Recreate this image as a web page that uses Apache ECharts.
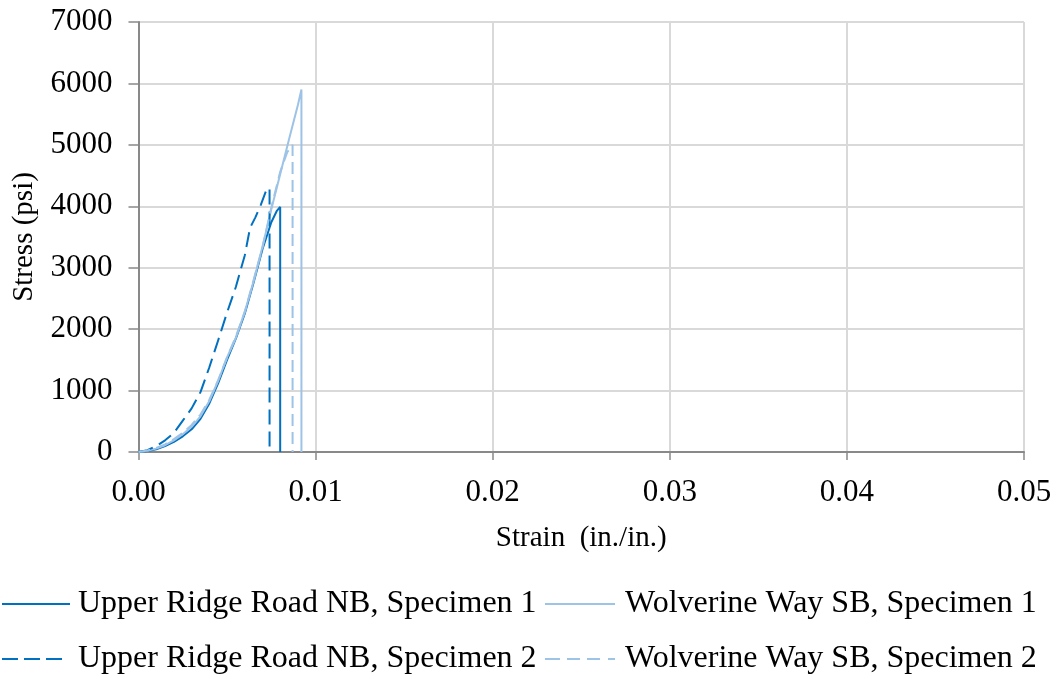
<!DOCTYPE html>
<html>
<head>
<meta charset="utf-8">
<script src="https://cdn.jsdelivr.net/npm/echarts@6/dist/echarts.min.js"></script>
<style>
  html, body { margin: 0; padding: 0; background: #fff; }
  #chart { width: 1059px; height: 679px; }
</style>
</head>
<body>
<div id="chart"></div>
<script>
// Stress-strain curves, strain in in./in., stress in psi.
// The last point of each curve is the drop to zero at failure.
const ridge1Strain = [0, 0.0005, 0.0010, 0.0015, 0.0020, 0.0025, 0.0030, 0.0035, 0.0040, 0.0045, 0.0050, 0.0055, 0.0060, 0.0065, 0.0070, 0.0075, 0.0078, 0.0080, 0.0080];
const ridge1Stress = [0, 15, 45, 95, 165, 255, 370, 540, 790, 1120, 1500, 1850, 2250, 2760, 3300, 3740, 3920, 3990, 0];

const ridge2Strain = [0, 0.0005, 0.0010, 0.0015, 0.0020, 0.0025, 0.0030, 0.0035, 0.0040, 0.0045, 0.0050, 0.0055, 0.0060, 0.0063, 0.0066, 0.0069, 0.0072, 0.0074, 0.0074];
const ridge2Stress = [0, 30, 95, 190, 310, 510, 710, 975, 1380, 1820, 2270, 2690, 3200, 3650, 3820, 4020, 4250, 4300, 0];

const wolv1Strain = [0, 0.0005, 0.0010, 0.0015, 0.0020, 0.0025, 0.0030, 0.0035, 0.0040, 0.0045, 0.0050, 0.0055, 0.0060, 0.0065, 0.0070, 0.0075, 0.0080, 0.0085, 0.0090, 0.0092, 0.0092];
const wolv1Stress = [0, 20, 55, 110, 190, 290, 410, 580, 830, 1160, 1540, 1860, 2280, 2780, 3340, 3950, 4520, 5090, 5650, 5900, 0];

const wolv2Strain = [0, 0.0005, 0.0010, 0.0015, 0.0020, 0.0025, 0.0030, 0.0035, 0.0040, 0.0045, 0.0050, 0.0055, 0.0060, 0.0065, 0.0070, 0.0075, 0.0080, 0.0084, 0.0087, 0.0087];
const wolv2Stress = [0, 25, 65, 125, 210, 310, 440, 610, 850, 1170, 1540, 1880, 2280, 2800, 3330, 3980, 4560, 4880, 5000, 0];

const seriesNames = [
  'Upper Ridge Road NB, Specimen 1',
  'Wolverine Way SB, Specimen 1',
  'Upper Ridge Road NB, Specimen 2',
  'Wolverine Way SB, Specimen 2'
];
const xTicks = [0, 0.01, 0.02, 0.03, 0.04, 0.05];
const yTicks = [0, 1000, 2000, 3000, 4000, 5000, 6000, 7000];

const DARK = '#0070C0';
const LIGHT = '#9DC3E6';
const AXIS_GREY = '#898989';
const GRID_GREY = '#D9D9D9';
const FONT = '"Liberation Serif", "Times New Roman", serif';

function pairs(xs, ys) { return xs.map((x, i) => [x, ys[i]]); }

function lineSeries(name, xs, ys, color, dash) {
  return {
    name: name,
    type: 'line',
    data: pairs(xs, ys),
    showSymbol: false,
    symbol: 'none',
    smooth: false,
    animation: false,
    lineStyle: { color: color, width: 2, type: dash },
    itemStyle: { color: color }
  };
}

// Legend keys are drawn as thin bar paths so the dash layout stays fixed.
function legendAt(name, left, top, width, icon, textPad) {
  return {
    data: [name],
    left: left,
    top: top,
    padding: 0,
    itemWidth: width,
    itemHeight: 14,
    icon: icon,
    selectedMode: false,
    textStyle: {
      fontFamily: FONT, fontSize: 32, lineHeight: 32, color: '#000',
      padding: [4, 0, 0, textPad]
    }
  };
}

const solidKey = w => 'path://M0,5 L' + w + ',5 L' + w + ',7 L0,7 Z';
const darkDashKey = 'path://M0,5 L16,5 L16,7 L0,7 Z M22,5 L38,5 L38,7 L22,7 Z M44,5 L60,5 L60,7 L44,7 Z';
const lightDashKey = 'path://M0,5 L15,5 L15,7 L0,7 Z M22,5 L35,5 L35,7 L22,7 Z M42,5 L55,5 L55,7 L42,7 Z M63,5 L70,5 L70,7 L63,7 Z';

const chart = echarts.init(document.getElementById('chart'), null, { renderer: 'canvas' });

chart.setOption({
  backgroundColor: '#fff',
  animation: false,
  grid: { left: 138.5, right: 35, top: 22, bottom: 227, containLabel: false },
  xAxis: {
    type: 'value',
    min: xTicks[0],
    max: xTicks[xTicks.length - 1],
    interval: 0.01,
    name: 'Strain  (in./in.)',
    nameLocation: 'middle',
    nameGap: 72,
    nameTextStyle: { fontFamily: FONT, fontSize: 29, color: '#000' },
    axisLine: { show: true, onZero: false, lineStyle: { color: AXIS_GREY, width: 2 } },
    axisTick: { show: true, inside: false, length: 8, lineStyle: { color: AXIS_GREY, width: 1.5 } },
    axisLabel: {
      fontFamily: FONT, fontSize: 31, color: '#000', margin: 25,
      formatter: v => v.toFixed(2)
    },
    splitLine: { show: true, lineStyle: { color: GRID_GREY, width: 2 } }
  },
  yAxis: {
    type: 'value',
    min: yTicks[0],
    max: yTicks[yTicks.length - 1],
    interval: 1000,
    name: 'Stress (psi)',
    nameLocation: 'middle',
    nameGap: 100,
    nameTextStyle: { fontFamily: FONT, fontSize: 29, color: '#000' },
    axisLine: { show: true, lineStyle: { color: AXIS_GREY, width: 2 } },
    axisTick: { show: true, inside: false, length: 10, lineStyle: { color: AXIS_GREY, width: 1.5 } },
    axisLabel: {
      fontFamily: FONT, fontSize: 31, color: '#000', margin: 26,
      formatter: v => String(v)
    },
    splitLine: { show: true, lineStyle: { color: GRID_GREY, width: 2 } }
  },
  legend: [
    legendAt(seriesNames[0], 2, 586, 68, solidKey(68), 3),
    legendAt(seriesNames[1], 545, 586, 70, solidKey(70), 5),
    legendAt(seriesNames[2], 2, 641, 60, darkDashKey, 11),
    legendAt(seriesNames[3], 545, 641, 70, lightDashKey, 5)
  ],
  series: [
    lineSeries(seriesNames[0], ridge1Strain, ridge1Stress, DARK, 'solid'),
    lineSeries(seriesNames[1], wolv1Strain, wolv1Stress, LIGHT, 'solid'),
    lineSeries(seriesNames[2], ridge2Strain, ridge2Stress, DARK, [15, 7]),
    lineSeries(seriesNames[3], wolv2Strain, wolv2Stress, LIGHT, [12, 6])
  ]
});
</script>
</body>
</html>
